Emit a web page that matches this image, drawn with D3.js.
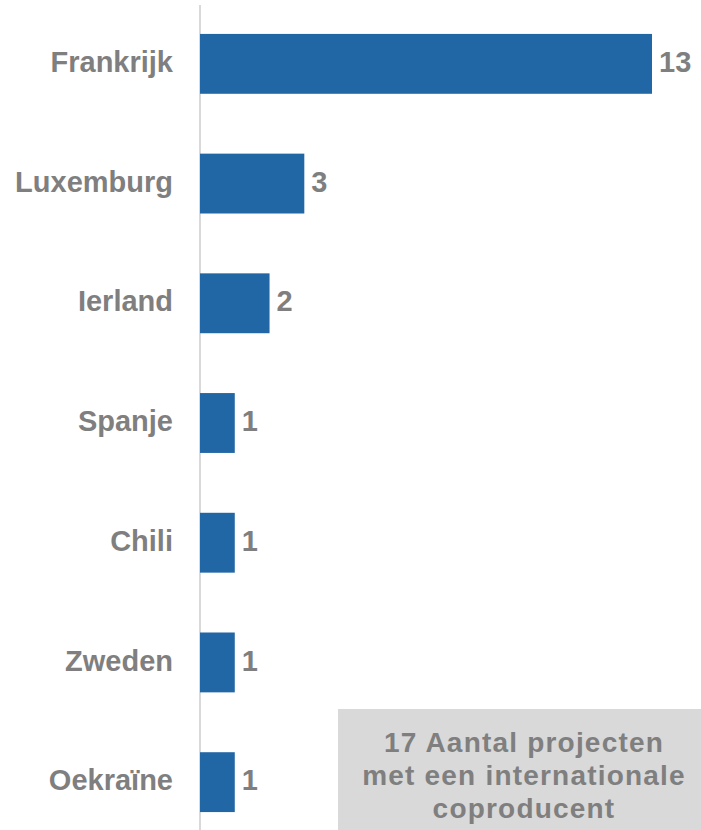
<!DOCTYPE html>
<html><head><meta charset="utf-8">
<script src="https://cdn.jsdelivr.net/npm/d3@7"></script>
<style>body{margin:0;background:#fff;}svg{display:block;}</style>
</head><body>
<svg id="c" width="701" height="830"></svg>
<script>
const categories = ["Frankrijk","Luxemburg","Ierland","Spanje","Chili","Zweden","Oekraïne"];
const values = [13,3,2,1,1,1,1];
const noteLines = ["17 Aantal projecten","met een internationale","coproducent"];

const svg = d3.select("#c");
const font = "'Liberation Sans', Arial, sans-serif";
const x = d3.scaleLinear().domain([0,13]).range([200,652]);
const y = d3.scaleBand().domain(categories).range([4,842]).paddingInner(0.5).paddingOuter(0.25);

// axis line
svg.append("line").attr("x1",200).attr("x2",200).attr("y1",5).attr("y2",830)
  .attr("stroke","#d9d9d9").attr("stroke-width",2);

svg.selectAll("rect.bar").data(values).join("rect").attr("class","bar")
  .attr("x",x(0)).attr("y",(d,i)=>y(categories[i]))
  .attr("width",d=>x(d)-x(0)).attr("height",y.bandwidth())
  .attr("fill","#2166a5");

svg.selectAll("text.cat").data(categories).join("text").attr("class","cat")
  .attr("x",173).attr("y",d=>y(d)+y.bandwidth()/2).attr("dy","0.28em")
  .attr("text-anchor","end").attr("font-family",font).attr("font-weight","bold")
  .attr("font-size",29).attr("fill","#7f7f7f").text(d=>d);

svg.selectAll("text.val").data(values).join("text").attr("class","val")
  .attr("x",d=>x(d)+7).attr("y",(d,i)=>y(categories[i])+y.bandwidth()/2).attr("dy","0.28em")
  .attr("font-family",font).attr("font-weight","bold")
  .attr("font-size",29).attr("fill","#7f7f7f").text(d=>d);

// note box
svg.append("rect").attr("x",338).attr("y",709).attr("width",363).attr("height",125).attr("fill","#d9d9d9");
svg.selectAll("text.note").data(noteLines).join("text").attr("class","note")
  .attr("x",524).attr("y",(d,i)=>752+i*33).attr("text-anchor","middle")
  .attr("font-family",font).attr("font-weight","bold").attr("font-size",28)
  .attr("letter-spacing",1.2).attr("fill","#7f7f7f")
  .text(d=>d);
</script>
</body></html>
